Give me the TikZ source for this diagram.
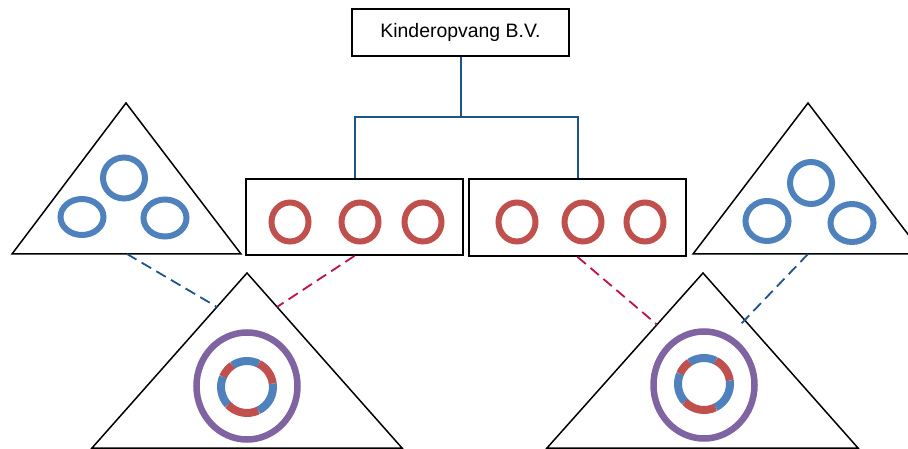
\documentclass[tikz,border=0pt]{standalone}
\usepackage{fontspec}
\setmainfont{Liberation Sans}
\usetikzlibrary{calc}

\definecolor{ringblue}{RGB}{79,129,189}
\definecolor{ringred}{RGB}{192,80,77}
\definecolor{ringpurple}{RGB}{128,100,162}
\definecolor{connblue}{RGB}{31,84,138}
\definecolor{linkred}{RGB}{192,16,72}

% ring made of alternating blue and red arcs
\newcommand\segring[1]{%
  \foreach \a/\b/\c in {63/124/ringblue,124/157/ringred,157/223/ringblue,
                        223/296/ringred,296/368/ringblue,368/423/ringred}
    \draw[draw=\c, line width=8bp] (#1) ++(-\a:26) arc[start angle=-\a, end angle=-\b, radius=26];%
}

\begin{document}
\begin{tikzpicture}[x=1bp,y=-1bp,
  box/.style={draw=black, line width=1.8bp, minimum width=217bp, inner sep=0pt},
  tri/.style={draw=black, line width=1.5bp, line join=miter},
  conn/.style={draw=connblue, line width=2bp},
  link/.style={line width=1.8bp, dash pattern=on 11bp off 6bp},
  bring/.style={draw=ringblue, line width=6bp},
  rring/.style={draw=ringred, line width=6bp},
  pring/.style={draw=ringpurple, line width=6.5bp},
]
\useasboundingbox (0,0) rectangle (908,449);
\clip (0,0) rectangle (908,449);

% organisation boxes
\node[box, minimum height=47bp, font=\fontsize{19.5}{22}\selectfont] (top) at (460.5,32.5) {Kinderopvang B.V.};
\node[box, minimum height=76bp] (lb) at (354.5,217) {};
\node[box, minimum height=77bp] (rb) at (577.5,217.5) {};

\coordinate (bus) at (460.5,117);
\draw[conn] (top.south) -- (bus);
\draw[conn] (lb.north) |- (bus) -| (rb.north);

% red groups inside the boxes
\foreach \x in {290,360,423,517,583,645}
  \draw[rring] (\x,222) ellipse [x radius=18.5, y radius=19.5];

% upper triangles with three blue groups each
\coordinate (ulA) at (126,103);
\coordinate (ulL) at (12,254);
\coordinate (ulR) at (241,254);
\draw[tri] (ulA) -- (ulL) -- (ulR) -- cycle;
\coordinate (urA) at (808,103);
\coordinate (urL) at (693,254);
\coordinate (urR) at (923,254);
\draw[tri] (urA) -- (urL) -- (urR) -- cycle;

\draw[bring] (124,178) ellipse [x radius=21, y radius=20.5];
\draw[bring] (82,217) ellipse [x radius=21.5, y radius=18];
\draw[bring] (165,218) ellipse [x radius=21.5, y radius=18.5];
\draw[bring] (811,183) ellipse [x radius=21, y radius=21];
\draw[bring] (767,221) ellipse [x radius=21.5, y radius=20];
\draw[bring] (852,223) ellipse [x radius=21.5, y radius=19];

% lower triangles with combined groups
\coordinate (blA) at (247,273);
\coordinate (blL) at (92,448);
\coordinate (blR) at (402,448);
\draw[tri] (blA) -- (blL) -- (blR) -- cycle;
\coordinate (brA) at (703,273);
\coordinate (brL) at (547,448);
\coordinate (brR) at (858,448);
\draw[tri] (brA) -- (brL) -- (brR) -- cycle;

\draw[pring] (247,386) ellipse [x radius=50.5, y radius=53.5];
\draw[pring] (704,385) ellipse [x radius=50.5, y radius=53.5];
\segring{247,387}
\segring{704,384}

% dashed links between levels
\coordinate (ulBase) at (127,254);
\coordinate (urBase) at (808,254);
\coordinate (blEdgeL) at ($(blA)!0.194!(blL)$);
\coordinate (blEdgeR) at ($(blA)!0.194!(blR)$);
\coordinate (brEdgeL) at ($(brA)!0.295!(brL)$);
\coordinate (brEdgeR) at (741,324);
\draw[link, draw=connblue] (ulBase) -- (blEdgeL);
\draw[link, draw=linkred] (lb.south) -- (blEdgeR);
\draw[link, draw=linkred] (rb.south) -- (brEdgeL);
\draw[link, draw=connblue] (urBase) -- (brEdgeR);
\end{tikzpicture}
\end{document}
